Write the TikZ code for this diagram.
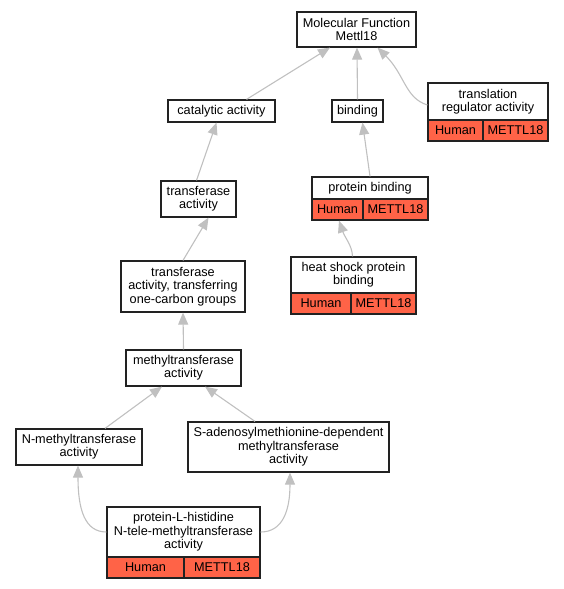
\documentclass[tikz,border=0pt]{standalone}
\usepackage{fontspec}
\setmainfont{Liberation Sans}
\usetikzlibrary{arrows.meta}
\definecolor{cellred}{HTML}{FF6347}
\definecolor{edgegray}{HTML}{C0C0C0}
\definecolor{bordergray}{HTML}{222222}
\tikzset{
  box/.style={draw=bordergray, fill=white, line width=1.2pt, inner sep=0pt, align=center,
    font=\fontsize{12.7}{13.3}\selectfont},
  cell/.style={box, fill=cellred},
  edge/.style={draw=edgegray, line width=1.1pt, -{Triangle[length=12pt,width=10pt]}}
}
\begin{document}
\begin{tikzpicture}[x=1pt,y=-1pt]
\useasboundingbox (0,0) rectangle (564,589);
% nodes
\node[box, minimum width=119pt, minimum height=35pt] (mf) at (356.5,29.5) {Molecular Function\\Mettl18};
\node[box, minimum width=107pt, minimum height=22pt] (cat) at (221.5,111) {catalytic activity};
\node[box, minimum width=51pt, minimum height=22pt] (bind) at (357.5,111) {binding};
\node[box, minimum width=120pt, minimum height=37pt] (tra) at (488,101.5) {translation\\regulator activity};
\node[cell, minimum width=55pt, minimum height=21pt] (traH) at (455.5,130.5) {Human};
\node[cell, minimum width=65pt, minimum height=21pt] (traM) at (515.5,130.5) {METTL18};
\node[box, minimum width=75pt, minimum height=36pt] (tf) at (198.5,199) {transferase\\activity};
\node[box, minimum width=116pt, minimum height=22pt] (pb) at (370,188) {protein binding};
\node[cell, minimum width=51pt, minimum height=21pt] (pbH) at (337.5,209.5) {Human};
\node[cell, minimum width=65pt, minimum height=21pt] (pbM) at (395.5,209.5) {METTL18};
\node[box, minimum width=124pt, minimum height=51pt] (oc) at (183,286.5) {transferase\\activity, transferring\\one-carbon groups};
\node[box, minimum width=125pt, minimum height=36pt] (hs) at (353.5,275) {heat shock protein\\binding};
\node[cell, minimum width=60pt, minimum height=21pt] (hsH) at (321,303.5) {Human};
\node[cell, minimum width=65pt, minimum height=21pt] (hsM) at (383.5,303.5) {METTL18};
\node[box, minimum width=115pt, minimum height=36pt] (mt) at (183.5,368) {methyltransferase\\activity};
\node[box, minimum width=126pt, minimum height=36pt] (nm) at (79,447) {N-methyltransferase\\activity};
\node[box, minimum width=201pt, minimum height=50pt] (sam) at (288.5,447) {S-adenosylmethionine-dependent\\methyltransferase\\activity};
\node[box, minimum width=153pt, minimum height=50pt] (his) at (183.5,532) {protein-L-histidine\\N-tele-methyltransferase\\activity};
\node[cell, minimum width=77pt, minimum height=21pt] (hisH) at (145.5,567.5) {Human};
\node[cell, minimum width=76pt, minimum height=21pt] (hisM) at (222,567.5) {METTL18};
% edges
\draw[edge] ([xshift=25pt]cat.north) -- ([xshift=-26.5pt]mf.south);
\draw[edge] (bind.north) -- ([xshift=0.5pt]mf.south);
\draw[edge] ([yshift=-3.5pt]tra.west) .. controls (405,98) and (405,75) .. ([xshift=21pt]mf.south);
\draw[edge] ([xshift=-2pt]tf.north) -- ([xshift=-5pt]cat.south);
\draw[edge] (pb.north) -- ([xshift=5pt]bind.south);
\draw[edge] (oc.north) -- ([xshift=10pt]tf.south);
\draw[edge] ([xshift=-1pt]hs.north) .. controls (352,245) and (345,238) .. ([xshift=-31pt]pb.south |- pbH.south);
\draw[edge] (mt.north) -- (oc.south);
\draw[edge] ([xshift=26pt]nm.north) -- ([xshift=-21.5pt]mt.south);
\draw[edge] ([xshift=-33.5pt]sam.north) -- ([xshift=21.5pt]mt.south);
\draw[edge] (his.west) .. controls (85,532) and (78,510) .. ([xshift=-1pt]nm.south);
\draw[edge] (his.east) .. controls (283,532) and (290,510) .. ([xshift=1.5pt]sam.south);
\end{tikzpicture}
\end{document}
